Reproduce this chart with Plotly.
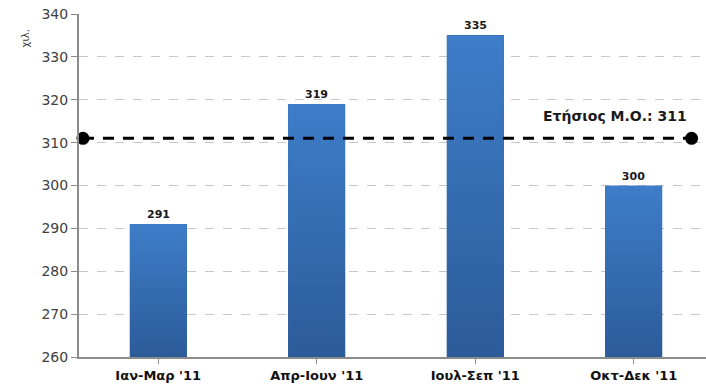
import plotly.graph_objects as go

# Quarterly values (thousands)
quarters = ["Ιαν-Μαρ '11", "Απρ-Ιουν '11", "Ιουλ-Σεπ '11", "Οκτ-Δεκ '11"]
values = [291, 319, 335, 300]
annual_avg = round(sum(values) / len(values))  # 311
y_min, y_max, y_step = 260, 340, 10

bar_width = 0.36
idx = list(range(len(quarters)))

fig = go.Figure()

# Base bars (carry the value labels)
fig.add_trace(go.Bar(
    x=idx, y=values, width=bar_width,
    marker=dict(color="#3569AE", line=dict(width=0)),
    text=[f"<b>{v}</b>" for v in values], textposition="outside",
    textfont=dict(family="DejaVu Sans", size=11, color="#1a1a1a"),
    cliponaxis=False, showlegend=False, hoverinfo="skip",
))

# Vertical gradient overlay for each bar
for i, v in zip(idx, values):
    x0, x1 = i - bar_width / 2, i + bar_width / 2
    fig.add_trace(go.Scatter(
        x=[x0, x1, x1, x0, x0], y=[y_min, y_min, v, v, y_min],
        mode="lines", line=dict(width=0), fill="toself",
        fillgradient=dict(type="vertical",
                          colorscale=[[0, "#2C5B99"], [1, "#3E7DC9"]]),
        showlegend=False, hoverinfo="skip",
    ))

# Annual average line with end markers
avg_x = [-0.475, 3.365]
fig.add_trace(go.Scatter(
    x=avg_x, y=[annual_avg, annual_avg], mode="lines+markers",
    line=dict(color="black", width=3, dash="11px,9px"),
    marker=dict(color="black", size=13),
    showlegend=False, hoverinfo="skip", cliponaxis=False,
))

fig.add_annotation(
    x=2.88, y=annual_avg, xref="x", yref="y",
    text=f"<b>Ετήσιος Μ.Ο.: {annual_avg}</b>",
    showarrow=False, yshift=22,
    font=dict(family="DejaVu Sans", size=14, color="#1a1a1a"),
)

fig.add_annotation(
    x=-0.097, y=0.96, xref="paper", yref="paper", text="χιλ.",
    showarrow=False, textangle=-90,
    font=dict(family="DejaVu Sans", size=10, color="#333"),
)

fig.update_layout(
    width=706, height=390,
    margin=dict(l=79, r=0, t=14, b=33),
    paper_bgcolor="white", plot_bgcolor="white",
    bargap=0,
    xaxis=dict(
        range=[-0.5, 3.456],
        tickmode="array", tickvals=idx, ticktext=[f"<b>{q}</b>" for q in quarters],
        tickfont=dict(family="DejaVu Sans", size=13, color="#111"),
        showgrid=False, showline=True, linecolor="#8c8c8c", linewidth=2,
        ticks="outside", ticklen=5, tickcolor="#8c8c8c", tickwidth=1,
        tickson="boundaries", zeroline=False,
    ),
    yaxis=dict(
        range=[y_min, y_max], dtick=y_step, tick0=y_min,
        tickfont=dict(family="DejaVu Sans", size=14, color="#404040"),
        showgrid=True, gridcolor="#c8c8c8", griddash="dash", gridwidth=1,
        showline=True, linecolor="#8c8c8c", linewidth=2,
        ticks="outside", ticklen=6, tickcolor="#8c8c8c",
        zeroline=False,
    ),
)

fig.write_html("out.html")
